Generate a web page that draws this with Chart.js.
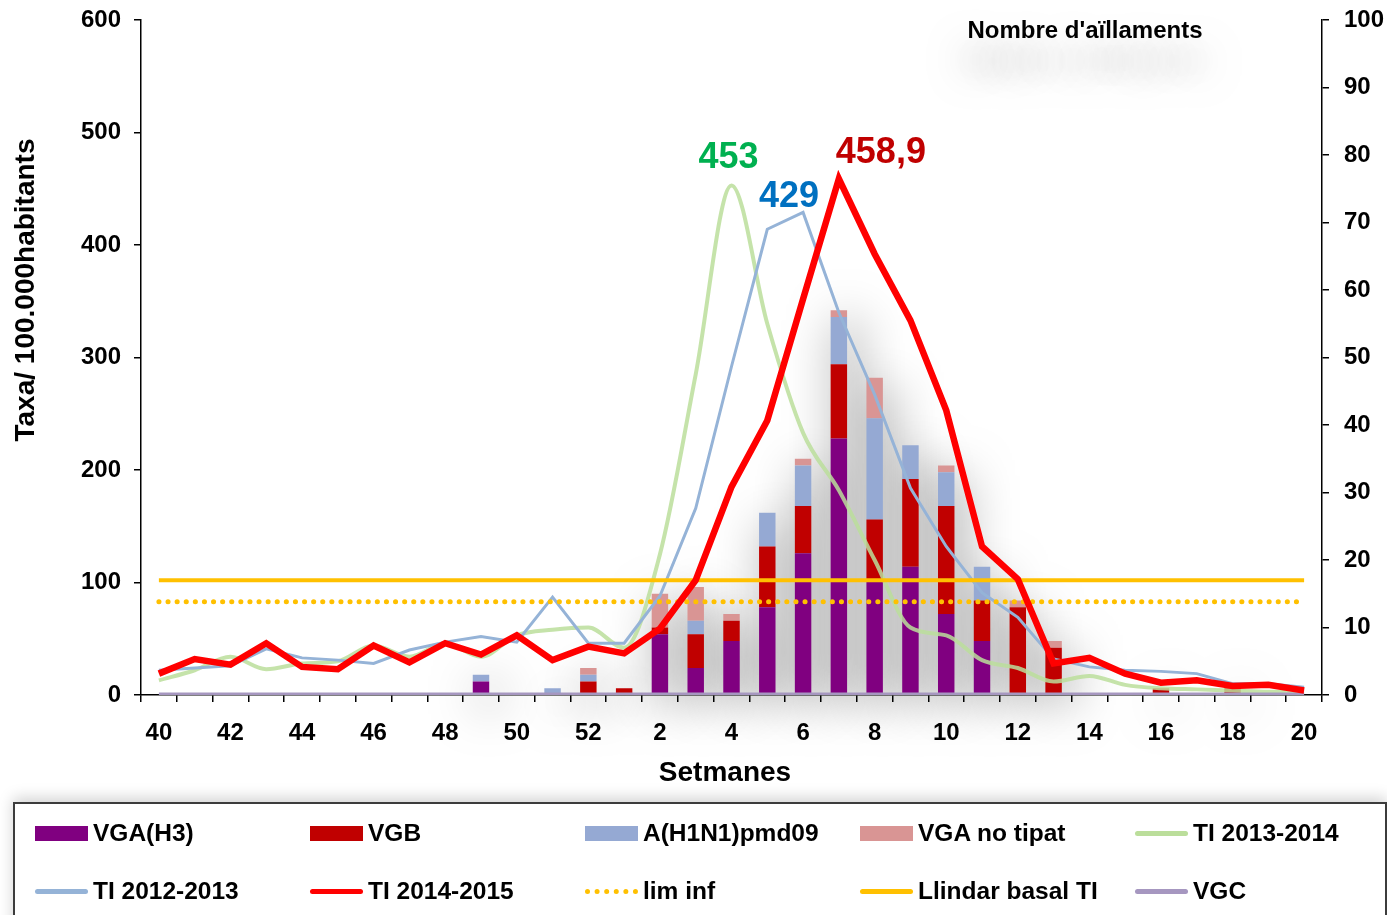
<!DOCTYPE html>
<html>
<head>
<meta charset="utf-8">
<script src="https://cdn.jsdelivr.net/npm/chart.js@4"></script>
<style>
  html, body { margin: 0; padding: 0; background: #fff; overflow: hidden; }
  body { width: 1387px; height: 915px; position: relative; font-family: "Liberation Sans", Arial, sans-serif; }
  #wrap { position: absolute; left: 0; top: 0; width: 1387px; height: 800px; }
  #legend {
    position: absolute; left: 13px; top: 802px; width: 1370px; height: 140px;
    border: 2px solid #3c3c3c; background: #fff;
    box-shadow: 0 -4px 14px rgba(0,0,0,0.18);
  }
  .item { position: absolute; height: 30px; font-weight: bold; font-size: 24.5px; color: #000; }
  .item span.sym { position: absolute; left: 0; }
  .item span.txt { position: absolute; left: 58px; top: 0; line-height: 30px; white-space: nowrap; }
</style>
</head>
<body>
<div id="wrap"><canvas id="chart" width="1387" height="800"></canvas></div>
<div id="legend"></div>
<script>
// setmanes epidemiologiques
const weeks = ['40','41','42','43','44','45','46','47','48','49','50','51','52',
               '1','2','3','4','5','6','7','8','9','10','11','12','13','14','15','16','17','18','19','20'];

// taxes per 100.000 habitants (eix esquerre)
const ti1415 = [19, 32, 27, 46, 25, 23, 44, 29, 46, 36, 53, 31, 43, 37, 59, 102, 185, 244, 352, 458.9,
                392, 333, 253, 132, 103, 28, 33, 19, 11, 13, 8, 9, 4];
const ti1213 = [22, 24, 26, 41, 33, 31, 28, 40, 47, 52, 47, 87, 46, 46, 88, 166, 292, 414, 429, 340,
                267, 184, 132, 91, 69, 32, 25, 22, 21, 19, 10, 10, 7];
const ti1314 = [13, 22, 34, 23, 28, 30, 44, 34, 46, 34, 53, 58, 60, 42, 125, 285, 453, 330, 233, 182,
                120, 60, 53, 31, 24, 12, 17, 9, 6, 5, 4, 3, 3];
const limInf = [83, 83, 83, 83, 83, 83, 83, 83, 83, 83, 83, 83, 83, 83, 83, 83, 83, 83, 83, 83,
                83, 83, 83, 83, 83, 83, 83, 83, 83, 83, 83, 83, 83];
const llindar = [102, 102, 102, 102, 102, 102, 102, 102, 102, 102, 102, 102, 102, 102, 102, 102, 102,
                 102, 102, 102, 102, 102, 102, 102, 102, 102, 102, 102, 102, 102, 102, 102, 102];

// nombre d'aillaments (eix dret)
const vgaH3 = [0, 0, 0, 0, 0, 0, 0, 0, 0, 2, 0, 0, 0, 0, 9, 4, 8, 13, 21, 38, 17, 19, 12, 8, 0, 0, 0, 0, 0, 0, 0, 0, 0];
const vgb   = [0, 0, 0, 0, 0, 0, 0, 0, 0, 0, 0, 0, 2, 1, 1, 5, 3, 9, 7, 11, 9, 13, 16, 6, 13, 7, 0, 0, 1, 0, 1, 0, 0];
const h1n1  = [0, 0, 0, 0, 0, 0, 0, 0, 0, 1, 0, 1, 1, 0, 0, 2, 0, 5, 6, 7, 15, 5, 5, 5, 0, 0, 0, 0, 0, 0, 0, 0, 0];
const vgaNoTipat = [0, 0, 0, 0, 0, 0, 0, 0, 0, 0, 0, 0, 1, 0, 5, 5, 1, 0, 1, 1, 6, 0, 1, 0, 1, 1, 0, 0, 0, 0, 0, 0, 0];
const vgc   = [0, 0, 0, 0, 0, 0, 0, 0, 0, 0, 0, 0, 0, 0, 0, 0, 0, 0, 0, 0, 0, 0, 0, 0, 0, 0, 0, 0, 0, 0, 0, 0, 0];

// pics anotats
const peaks = [
  { text: '453',   color: '#00b050', index: 16, value: 453,   dx: -3,  dy: -27 },
  { text: '429',   color: '#0070c0', index: 18, value: 429,   dx: -14, dy: -15 },
  { text: '458,9', color: '#c00000', index: 19, value: 458.9, dx: 42,  dy: -26 }
];

const FONT = '"Liberation Sans", Arial, sans-serif';

// ombra difuminada darrere les columnes (com a Excel)
const barShadow = {
  id: 'barShadow',
  beforeDatasetsDraw(chart) {
    const ctx = chart.ctx;
    const metas = chart.getSortedVisibleDatasetMetas().filter(m => m.type === 'bar');
    if (!metas.length) return;
    const base = chart.scales.y2.getPixelForValue(0);
    ctx.save();
    ctx.shadowColor = 'rgba(0,0,0,0.5)';
    ctx.shadowBlur = 48;
    ctx.shadowOffsetX = 10000 + 8;
    ctx.shadowOffsetY = 10;
    ctx.fillStyle = '#000';
    metas[0].data.forEach((el, i) => {
      let top = base;
      metas.forEach(m => { top = Math.min(top, m.data[i].y); });
      if (base - top < 1) return;
      const w = el.width;
      ctx.fillRect(el.x - w / 2 - 10000, top, w, base - top);
    });
    ctx.restore();
  }
};

const textPlugin = {
  id: 'texts',
  afterDraw(chart) {
    const ctx = chart.ctx;
    const x = chart.scales.x, y = chart.scales.y;
    ctx.save();
    ctx.textAlign = 'center';
    ctx.textBaseline = 'middle';

    // valors dels pics
    ctx.font = 'bold 36px ' + FONT;
    peaks.forEach(p => {
      ctx.fillStyle = p.color;
      ctx.fillText(p.text, x.getPixelForValue(p.index) + p.dx, y.getPixelForValue(p.value) + p.dy);
    });

    // etiqueta eix dret amb ombra
    ctx.save();
    ctx.shadowColor = 'rgba(0,0,0,0.55)';
    ctx.shadowBlur = 40;
    ctx.shadowOffsetY = 30;
    ctx.font = 'bold 24px ' + FONT;
    ctx.fillStyle = '#000';
    ctx.fillText("Nombre d'aïllaments", 1085, 31);
    ctx.restore();

    // titol eix x
    ctx.fillStyle = '#000';
    ctx.font = 'bold 28px ' + FONT;
    ctx.fillText('Setmanes', 725, 773);

    // titol eix y
    ctx.translate(26, 290);
    ctx.rotate(-Math.PI / 2);
    ctx.font = 'bold 28px ' + FONT;
    ctx.fillText('Taxa/ 100.000habitants', 0, 0);
    ctx.restore();
  }
};

const tickFont = { family: FONT, size: 24, weight: 'bold' };

function fitVertical(width) {
  return function (s) {
    s.width = width;
    s.paddingTop = 0;
    s.paddingBottom = 0;
  };
}

const canvas = document.getElementById('chart');
new Chart(canvas.getContext('2d'), {
  data: {
    labels: weeks,
    datasets: [
      { type: 'line', label: 'TI 2014-2015', data: ti1415, yAxisID: 'y', borderColor: '#ff0000',
        borderWidth: 6.5, pointRadius: 0, tension: 0, borderJoinStyle: 'miter' },
      { type: 'line', label: 'VGC', data: vgc, yAxisID: 'y2', borderColor: '#a697c0',
        borderWidth: 5, pointRadius: 0, tension: 0 },
      { type: 'line', label: 'Llindar basal TI', data: llindar, yAxisID: 'y', borderColor: '#ffc000',
        borderWidth: 4, pointRadius: 0, tension: 0 },
      { type: 'line', label: 'lim inf', data: limInf, yAxisID: 'y', borderColor: '#ffc000',
        borderWidth: 5, borderDash: [0.1, 9], borderCapStyle: 'round', pointRadius: 0, tension: 0 },
      { type: 'line', label: 'TI 2012-2013', data: ti1213, yAxisID: 'y', borderColor: '#95b3d7',
        borderWidth: 3, pointRadius: 0, tension: 0 },
      { type: 'line', label: 'TI 2013-2014', data: ti1314, yAxisID: 'y', borderColor: 'rgba(187,222,155,0.85)',
        borderWidth: 4, pointRadius: 0, cubicInterpolationMode: 'monotone' },
      { type: 'bar', label: 'VGA(H3)', data: vgaH3, yAxisID: 'y2', stack: 's', backgroundColor: '#800080',
        categoryPercentage: 1, barPercentage: 0.46 },
      { type: 'bar', label: 'VGB', data: vgb, yAxisID: 'y2', stack: 's', backgroundColor: '#c00000',
        categoryPercentage: 1, barPercentage: 0.46 },
      { type: 'bar', label: 'A(H1N1)pmd09', data: h1n1, yAxisID: 'y2', stack: 's', backgroundColor: '#95a9d3',
        categoryPercentage: 1, barPercentage: 0.46 },
      { type: 'bar', label: 'VGA no tipat', data: vgaNoTipat, yAxisID: 'y2', stack: 's', backgroundColor: '#d99594',
        categoryPercentage: 1, barPercentage: 0.46 }
    ]
  },
  options: {
    responsive: false,
    animation: false,
    layout: { padding: { top: 20, left: 0, right: 0, bottom: 0 } },
    plugins: { legend: { display: false }, tooltip: { enabled: false } },
    scales: {
      x: {
        offset: true,
        grid: { offset: true, drawOnChartArea: false, drawTicks: true, tickLength: 7, color: '#000', lineWidth: 1.5 },
        border: { color: '#000', width: 1.5 },
        ticks: {
          autoSkip: false, maxRotation: 0, minRotation: 0, color: '#000', font: tickFont, padding: 17,
          callback: function (v, i) { return i % 2 === 0 ? weeks[i] : ''; }
        },
        afterFit: function (s) { s.height = 105; s.paddingLeft = 0; s.paddingRight = 0; }
      },
      y: {
        position: 'left', min: 0, max: 600,
        grid: { drawOnChartArea: false, tickLength: 7, color: '#000', lineWidth: 1.5 },
        border: { color: '#000', width: 1.5 },
        ticks: { stepSize: 100, color: '#000', font: tickFont, padding: 13 },
        afterFit: fitVertical(141)
      },
      y2: {
        position: 'right', min: 0, max: 100, stacked: true,
        grid: { drawOnChartArea: false, tickLength: 7, color: '#000', lineWidth: 1.5 },
        border: { color: '#000', width: 1.5 },
        ticks: { stepSize: 10, color: '#000', font: tickFont, padding: 15 },
        afterFit: fitVertical(65)
      }
    }
  },
  plugins: [barShadow, textPlugin]
});

// llegenda
const legendItems = [
  { label: 'VGA(H3)', kind: 'box', color: '#800080' },
  { label: 'VGB', kind: 'box', color: '#c00000' },
  { label: 'A(H1N1)pmd09', kind: 'box', color: '#95a9d3' },
  { label: 'VGA no tipat', kind: 'box', color: '#d99594' },
  { label: 'TI 2013-2014', kind: 'line', color: '#bbde9b' },
  { label: 'TI 2012-2013', kind: 'line', color: '#95b3d7' },
  { label: 'TI 2014-2015', kind: 'line', color: '#ff0000' },
  { label: 'lim inf', kind: 'dots', color: '#ffc000' },
  { label: 'Llindar basal TI', kind: 'line', color: '#ffc000' },
  { label: 'VGC', kind: 'line', color: '#a697c0' }
];
const legend = document.getElementById('legend');
legendItems.forEach((it, k) => {
  const col = k % 5, row = Math.floor(k / 5);
  const d = document.createElement('div');
  d.className = 'item';
  d.style.left = (20 + col * 275) + 'px';
  d.style.top = (14 + row * 58) + 'px';
  const s = document.createElement('span');
  s.className = 'sym';
  if (it.kind === 'box') {
    s.style.cssText = 'left:0;top:8px;width:53px;height:15px;background:' + it.color;
  } else if (it.kind === 'line') {
    s.style.cssText = 'left:0;top:13px;width:53px;height:5px;border-radius:3px;background:' + it.color;
  } else {
    s.style.cssText = 'left:0;top:13px;width:53px;height:0;border-top:5px dotted ' + it.color;
  }
  const t = document.createElement('span');
  t.className = 'txt';
  t.textContent = it.label;
  d.appendChild(s);
  d.appendChild(t);
  legend.appendChild(d);
});
</script>
</body>
</html>
